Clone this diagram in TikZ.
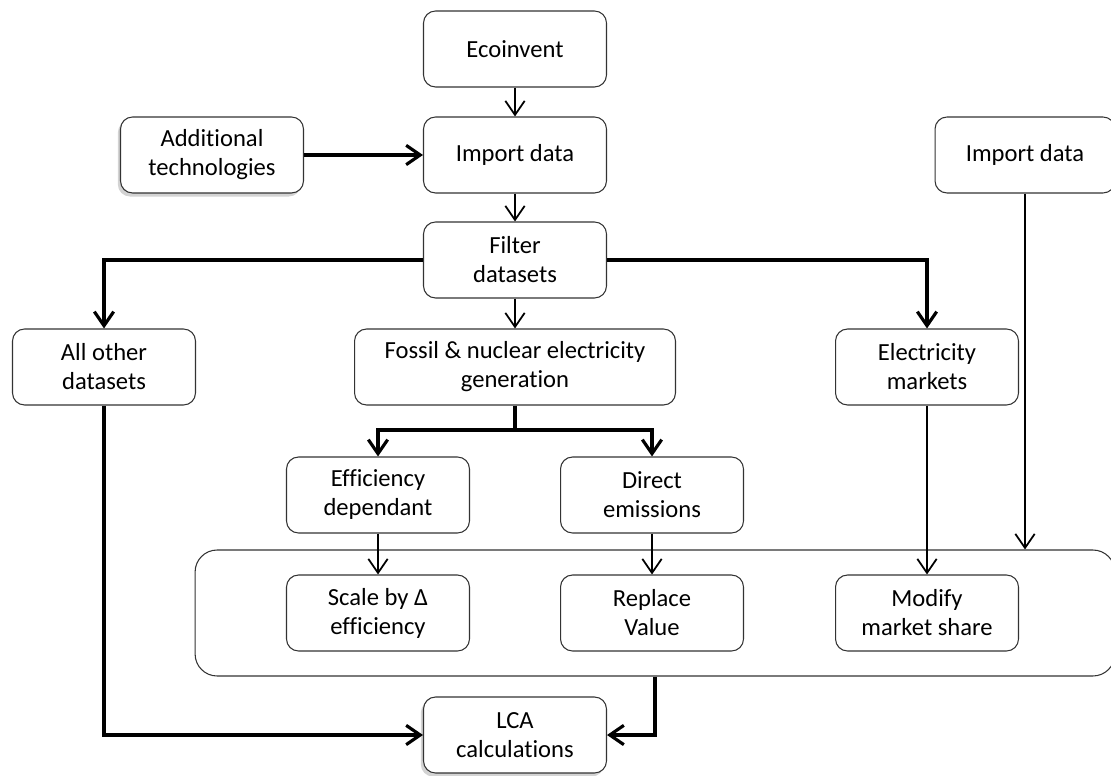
\documentclass[tikz,border=0pt]{standalone}
\usepackage{fontspec}
\setmainfont{Carlito}[Ligatures={NoCommon}]
\usepackage{tikz}
\usetikzlibrary{arrows.meta, shadows}

\begin{document}
\begin{tikzpicture}[x=0.02cm, y=-0.02cm,
    >={Straight Barb[length=8pt, width=11pt]},
    box/.style={draw=black!80, line width=0.6pt, rounded corners=0.24cm, fill=white,
      minimum width=3.66cm, minimum height=1.52cm, align=center, inner sep=2pt,
      font=\fontsize{14}{16.5}\selectfont},
    shbox/.style={box, drop shadow={shadow xshift=-1.5pt, shadow yshift=-2pt, opacity=0.35}},
    thk/.style={->, line width=1.8pt},
    thn/.style={->, line width=1pt}]
    \useasboundingbox (0,0) rectangle (1111,776);

    % container round the three modify steps
    \node[draw=black!80, line width=0.6pt, rounded corners=0.44cm,
      minimum width=18.4cm, minimum height=2.52cm] (group) at (655,613) {};

    \node[box] (eco) at (515,49) {Ecoinvent};
    \node[box] (imp) at (515,155) {Import data};
    \node[shbox] (add) at (212,155) {Additional\\technologies};
    \node[box, minimum width=3.6cm] (impr) at (1025,155) {Import data};
    \node[box] (filt) at (515,260) {Filter\\datasets};

    \node[box] (other) at (104,367) {All other\\datasets};
    \node[box, minimum width=6.42cm] (fossil) at (515,367) {Fossil \& nuclear electricity\\generation};
    \node[box] (elmk) at (927,367) {Electricity\\markets};

    \node[box] (eff) at (378,495) {Efficiency\\dependant};
    \node[box] (direct) at (652,495) {Direct\\emissions};

    \node[box] (scale) at (378,613) {Scale by Δ\\efficiency};
    \node[box] (repl) at (652,613) {Replace\\Value};
    \node[box] (modif) at (927,613) {Modify\\market share};

    \node[shbox] (lca) at (515,735) {LCA\\calculations};

    \coordinate (split) at (515,430);

    \draw[thn] (eco) -- (imp);
    \draw[thk] (add) -- (imp);
    \draw[thn] (imp) -- (filt);
    \draw[thk] (filt.west) -| (other.north);
    \draw[thk] (filt.east) -| (elmk.north);
    \draw[thn] (filt) -- (fossil);
    \draw[thk] (fossil.south) -- (split) -| (eff.north);
    \draw[thk] (split) -| (direct.north);

    \draw[thn] (eff) -- (scale);
    \draw[thn] (direct) -- (repl);
    \draw[thn] (elmk) -- (modif);
    \draw[thn] (impr.south) -- (impr.south |- group.north);

    \draw[thk] (other.south) |- (lca.west);
    \draw[thk] (group.south) |- (lca.east);
  \end{tikzpicture}
\end{document}
